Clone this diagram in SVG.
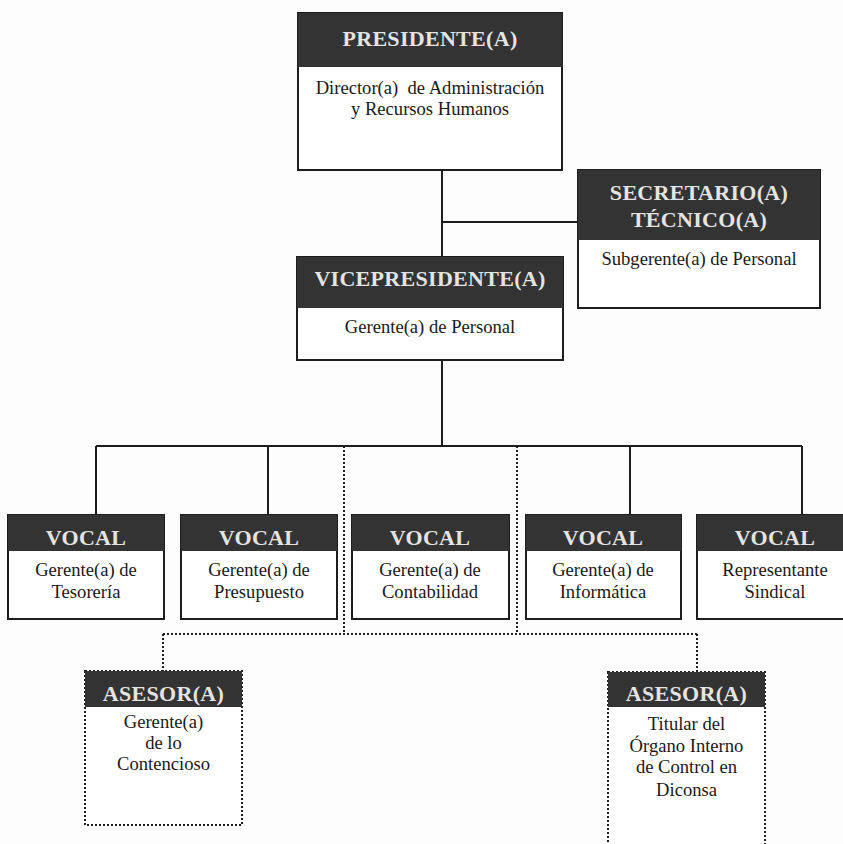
<svg xmlns="http://www.w3.org/2000/svg" width="843" height="844" viewBox="0 0 843 844">
<style>
.box{fill:#ffffff;stroke:#1e1e1e;stroke-width:2}
.dbox{fill:#ffffff;stroke:#1e1e1e;stroke-width:2;stroke-dasharray:2 2}
.hd{fill:#333333}
.ht{font-family:"Liberation Serif","Times New Roman",serif;font-weight:bold;font-size:22px;fill:#e4e4e4;text-anchor:middle;letter-spacing:0.3px}
.bt{font-family:"Liberation Serif","Times New Roman",serif;font-size:18.6px;fill:#1a1a1a;text-anchor:middle}
.ln{stroke:#1e1e1e;stroke-width:2;fill:none}
.dl{stroke:#1e1e1e;stroke-width:2;fill:none;stroke-dasharray:2 2}
</style>
<rect x="0" y="0" width="843" height="844" fill="#fdfdfd"/>
<g id="connectors">
<path class="ln" d="M442 170 V257 M442 222 H578 M442 360 V446 M96 446 H802 M96 446 V515 M268 446 V515 M630 446 V515 M802 446 V515"/>
<path class="dl" d="M344 446 V634 M517 446 V634 M163 634 H697 M163 634 V671 M697 634 V672"/>
</g>
<g id="presidente">
<rect class="box" x="298" y="13" width="264" height="157"/>
<rect class="hd" x="298" y="13" width="264" height="54"/>
<text class="ht" x="430" y="46">PRESIDENTE(A)</text>
<text class="bt" x="430" y="94">Director(a)&#160; de Administración</text>
<text class="bt" x="430" y="115">y Recursos Humanos</text>
</g>
<g id="secretario">
<rect class="box" x="578" y="170" width="242" height="138"/>
<rect class="hd" x="578" y="170" width="242" height="70"/>
<text class="ht" x="699" y="200">SECRETARIO(A)</text>
<text class="ht" x="699" y="227">TÉCNICO(A)</text>
<text class="bt" x="699" y="265">Subgerente(a) de Personal</text>
</g>
<g id="vicepresidente">
<rect class="box" x="297" y="257" width="266" height="103"/>
<rect class="hd" x="297" y="257" width="266" height="51"/>
<text class="ht" x="430" y="286">VICEPRESIDENTE(A)</text>
<text class="bt" x="430" y="333">Gerente(a) de Personal</text>
</g>
<g id="vocal-tesoreria">
<rect class="box" x="8" y="515" width="156" height="104"/>
<rect class="hd" x="8" y="515" width="156" height="36"/>
<text class="ht" x="86" y="545">VOCAL</text>
<text class="bt" x="86" y="576">Gerente(a) de</text>
<text class="bt" x="86" y="598">Tesorería</text>
</g>
<g id="vocal-presupuesto">
<rect class="box" x="181" y="515" width="156" height="104"/>
<rect class="hd" x="181" y="515" width="156" height="36"/>
<text class="ht" x="259" y="545">VOCAL</text>
<text class="bt" x="259" y="576">Gerente(a) de</text>
<text class="bt" x="259" y="598">Presupuesto</text>
</g>
<g id="vocal-contabilidad">
<rect class="box" x="352" y="515" width="157" height="104"/>
<rect class="hd" x="352" y="515" width="157" height="36"/>
<text class="ht" x="430" y="545">VOCAL</text>
<text class="bt" x="430" y="576">Gerente(a) de</text>
<text class="bt" x="430" y="598">Contabilidad</text>
</g>
<g id="vocal-informatica">
<rect class="box" x="526" y="515" width="155" height="104"/>
<rect class="hd" x="526" y="515" width="155" height="36"/>
<text class="ht" x="603" y="545">VOCAL</text>
<text class="bt" x="603" y="576">Gerente(a) de</text>
<text class="bt" x="603" y="598">Informática</text>
</g>
<g id="vocal-sindical">
<rect class="box" x="697" y="515" width="156" height="104"/>
<rect class="hd" x="697" y="515" width="156" height="36"/>
<text class="ht" x="775" y="545">VOCAL</text>
<text class="bt" x="775" y="576">Representante</text>
<text class="bt" x="775" y="598">Sindical</text>
</g>
<g id="asesor-contencioso">
<rect class="dbox" x="85" y="671" width="157" height="154"/>
<rect class="hd" x="85" y="671" width="157" height="36"/>
<text class="ht" x="163.5" y="701">ASESOR(A)</text>
<text class="bt" x="163.5" y="728">Gerente(a)</text>
<text class="bt" x="163.5" y="749">de lo</text>
<text class="bt" x="163.5" y="770">Contencioso</text>
</g>
<g id="asesor-oic">
<rect class="dbox" x="608" y="672" width="157" height="180"/>
<rect class="hd" x="608" y="672" width="157" height="35"/>
<text class="ht" x="686.5" y="701">ASESOR(A)</text>
<text class="bt" x="686.5" y="730">Titular del</text>
<text class="bt" x="686.5" y="752">Órgano Interno</text>
<text class="bt" x="686.5" y="773">de Control en</text>
<text class="bt" x="686.5" y="796">Diconsa</text>
</g>
</svg>
